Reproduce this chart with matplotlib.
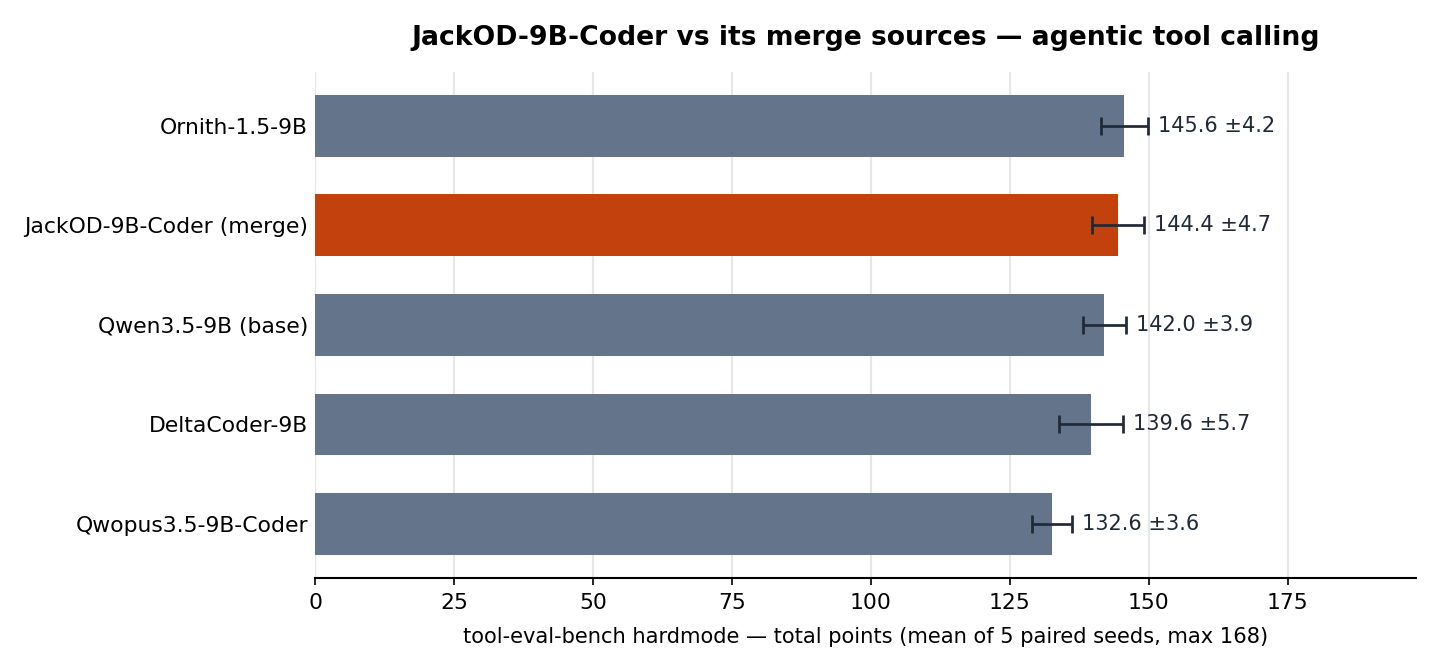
from matplotlib import pyplot as plt
import numpy as np

## Dados
modelos = ["Ornith-1.5-9B", "JackOD-9B-Coder (merge)", "Qwen3.5-9B (base)",
           "DeltaCoder-9B", "Qwopus3.5-9B-Coder"]
medias = [145.6, 144.4, 142.0, 139.6, 132.6]
desvios = [4.2, 4.7, 3.9, 5.7, 3.6]
destaque = "JackOD-9B-Coder (merge)"
xticks = [0, 25, 50, 75, 100, 125, 150, 175]

cor_base = "#64748b"
cor_destaque = "#c2410c"
cor_texto = "#1f2937"

fig, ax = plt.subplots(figsize=(9.6, 4.48), dpi=150)
fig.subplots_adjust(left=0.219, right=0.983, top=0.893, bottom=0.140)

y = np.arange(len(modelos))
cores = [cor_destaque if m == destaque else cor_base for m in modelos]
ax.barh(y, medias, height=0.62, color=cores, zorder=2)
ax.errorbar(medias, y, xerr=desvios, fmt="none", ecolor=cor_texto,
            elinewidth=1.3, capsize=4.2, capthick=1.3, zorder=3)

for yi, m, d in zip(y, medias, desvios):
    ax.text(m + d + 1.8, yi, f"{m:.1f} \u00b1{d:.1f}", va="center", ha="left",
            fontsize=10, color=cor_texto)

ax.set_yticks(y)
ax.set_yticklabels(modelos, fontsize=10.5)
ax.invert_yaxis()
ax.tick_params(axis="y", length=0)
ax.set_xticks(xticks)
ax.tick_params(axis="x", labelsize=10.5)
ax.set_xlim(0, 198)

ax.xaxis.grid(True, color="#e5e7eb", linewidth=1, zorder=0)
ax.set_axisbelow(True)
for s in ["top", "right", "left"]:
    ax.spines[s].set_visible(False)
ax.spines["bottom"].set_linewidth(1.0)

ax.set_xlabel("tool-eval-bench hardmode \u2014 total points (mean of 5 paired seeds, max 168)",
              fontsize=10.1, labelpad=7)
ax.set_title("JackOD-9B-Coder vs its merge sources \u2014 agentic tool calling",
             fontsize=12.8, fontweight="bold", pad=13)

plt.savefig("out.png", dpi=150)
